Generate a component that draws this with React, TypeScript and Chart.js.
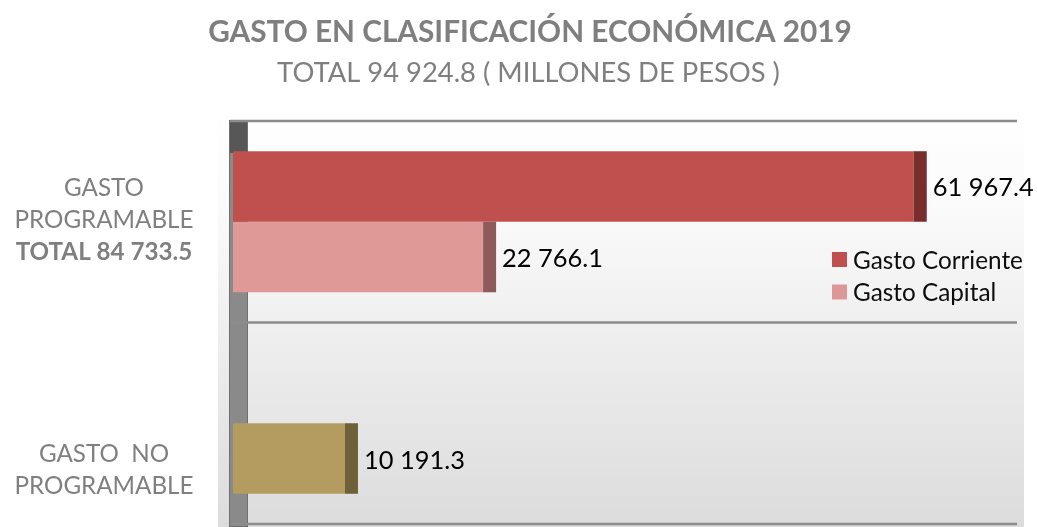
import React, { useEffect, useRef } from "react";
import { Chart, registerables } from "chart.js";

Chart.register(...registerables);

const titleText = "GASTO EN CLASIFICACIÓN ECONÓMICA 2019";
const subtitleText = "TOTAL 94 924.8 ( MILLONES DE PESOS )";
const categories = ["GASTO PROGRAMABLE", "GASTO NO PROGRAMABLE"];
const categoryLines = [["GASTO", "PROGRAMABLE"], ["GASTO  NO", "PROGRAMABLE"]];
const categoryTotals = ["TOTAL 84 733.5", ""];
const seriesNames = ["Gasto Corriente", "Gasto Capital"];
const gastoCorriente = [61967.4, null];
const gastoCapital = [22766.1, 10191.3];
const axisMax = 70000;

const FONT = "Lato, 'Open Sans', sans-serif";
const GRAY = "#7f7f7f";

function fmt(v: number) {
  const [i, d] = v.toFixed(1).split(".");
  return i.replace(/\B(?=(\d{3})+(?!\d))/g, " ") + "." + d;
}

function fitSize(ctx: CanvasRenderingContext2D, text: string, target: number, weight: string) {
  ctx.font = `${weight} 100px ${FONT}`;
  const w = ctx.measureText(text).width;
  return (100 * target) / w;
}

const decorPlugin = {
  id: "decor",
  beforeDraw(chart: any) {
    const ctx: CanvasRenderingContext2D = chart.ctx;
    const area = chart.chartArea;
    const y = chart.scales.y;
    ctx.save();
    ctx.fillStyle = "#ffffff";
    ctx.fillRect(0, 0, chart.width, chart.height);
    const g = ctx.createLinearGradient(0, 108, 0, chart.height);
    g.addColorStop(0, "#ffffff");
    g.addColorStop(0.25, "#fafafa");
    g.addColorStop(1, "#dcdcdc");
    ctx.fillStyle = g;
    ctx.fillRect(218, 108, 806, chart.height - 108);

    const half = (y.getPixelForValue(1) - y.getPixelForValue(0)) / 2;
    const top = y.getPixelForValue(0) - half;
    const bottom = y.getPixelForValue(categories.length - 1) + half;
    // wall
    ctx.fillStyle = "#8a8a8a";
    ctx.fillRect(area.left - 3, top, 17, bottom - top + 2);
    ctx.fillStyle = "#575757";
    ctx.fillRect(area.left - 3, top, 17, 32);
    ctx.strokeStyle = "#6f6f6f";
    ctx.lineWidth = 1;
    ctx.strokeRect(area.left - 3.5, top - 0.5, 18, bottom - top + 3);
    // gridlines (back plane)
    ctx.strokeStyle = "#8c8c8c";
    ctx.lineWidth = 2.5;
    for (let i = 0; i <= categories.length; i++) {
      const py = top + i * 2 * half;
      ctx.beginPath();
      ctx.moveTo(area.left - 3, py);
      ctx.lineTo(area.right + 15, py);
      ctx.stroke();
    }
    ctx.restore();
  },
  afterDatasetsDraw(chart: any) {
    const ctx: CanvasRenderingContext2D = chart.ctx;
    const y = chart.scales.y;
    const capColors = [["#7a2e2c", "#7a2e2c"], ["#8f5a5a", "#6e6038"]];
    ctx.save();
    const valSize = fitSize(ctx, fmt(61967.4), 101, "normal");
    chart.data.datasets.forEach((ds: any, di: number) => {
      const meta = chart.getDatasetMeta(di);
      meta.data.forEach((bar: any, i: number) => {
        const v = ds.data[i];
        if (v == null) return;
        const h = bar.height;
        ctx.fillStyle = capColors[di][i];
        ctx.fillRect(bar.x, bar.y - h / 2, 13, h);
        ctx.font = `normal ${valSize}px ${FONT}`;
        ctx.fillStyle = "#000000";
        ctx.textAlign = "left";
        ctx.textBaseline = "alphabetic";
        const m = ctx.measureText("0");
        ctx.fillText(fmt(v), bar.x + 19, bar.y + 1 + m.actualBoundingBoxAscent / 2);
      });
    });

    // titles
    ctx.fillStyle = GRAY;
    ctx.textAlign = "center";
    const tSize = fitSize(ctx, titleText, 644, "bold");
    ctx.font = `bold ${tSize}px ${FONT}`;
    ctx.fillText(titleText, 530, 42);
    const sSize = fitSize(ctx, subtitleText, 503, "normal");
    ctx.font = `normal ${sSize}px ${FONT}`;
    ctx.fillText(subtitleText, 528.5, 82);

    // category labels
    const cSize = fitSize(ctx, "PROGRAMABLE", 179, "normal");
    const labelShift = [-3, 46];
    categoryLines.forEach((lines, i) => {
      const cy = y.getPixelForValue(i);
      const all = categoryTotals[i] ? [...lines, categoryTotals[i]] : lines;
      const lh = 32;
      const firstBase = cy + labelShift[i] - ((all.length - 1) * lh) / 2 + 9;
      all.forEach((t, k) => {
        const bold = k === lines.length;
        ctx.font = `${bold ? "bold" : "normal"} ${cSize}px ${FONT}`;
        ctx.fillText(t, 104, firstBase + k * lh);
      });
    });

    // legend
    const lSize = fitSize(ctx, seriesNames[0], 170, "normal");
    const legendColors = ["#c0504d", "#dc9896"];
    seriesNames.forEach((n, i) => {
      const cy = 259.5 + i * 32.5;
      ctx.fillStyle = legendColors[i];
      ctx.fillRect(832, cy - 7.5, 15, 15);
      ctx.fillStyle = "#0d0d0d";
      ctx.textAlign = "left";
      ctx.font = `normal ${lSize}px ${FONT}`;
      const m = ctx.measureText("G");
      ctx.fillText(n, 853, cy + m.actualBoundingBoxAscent / 2);
    });
    ctx.restore();
  },
};

export default function App() {
  const ref = useRef<HTMLCanvasElement>(null);
  useEffect(() => {
    if (!ref.current) return;
    const chart = new Chart(ref.current, {
      type: "bar",
      data: {
        labels: categories,
        datasets: [
          {
            label: seriesNames[0],
            data: gastoCorriente,
            backgroundColor: ["#c0504d", "#c0504d"],
            categoryPercentage: 0.7,
            barPercentage: 1,
          },
          {
            label: seriesNames[1],
            data: gastoCapital,
            backgroundColor: ["#df9997", "#b49c60"],
            categoryPercentage: 0.7,
            barPercentage: 1,
          },
        ],
      },
      options: {
        indexAxis: "y",
        responsive: false,
        animation: false,
        layout: { padding: { left: 233, right: 35, top: 121, bottom: 3 } },
        scales: {
          x: { type: "linear", min: 0, max: axisMax, display: false },
          y: { type: "category", display: false },
        },
        plugins: {
          legend: { display: false },
          tooltip: { enabled: false },
          title: { display: false },
        },
      },
      plugins: [decorPlugin],
    } as any);
    return () => chart.destroy();
  }, []);
  return (
    <div style={{ position: "absolute", left: 0, top: 0, width: 1037, height: 527 }}>
      <canvas ref={ref} width={1037} height={527} />
    </div>
  );
}
